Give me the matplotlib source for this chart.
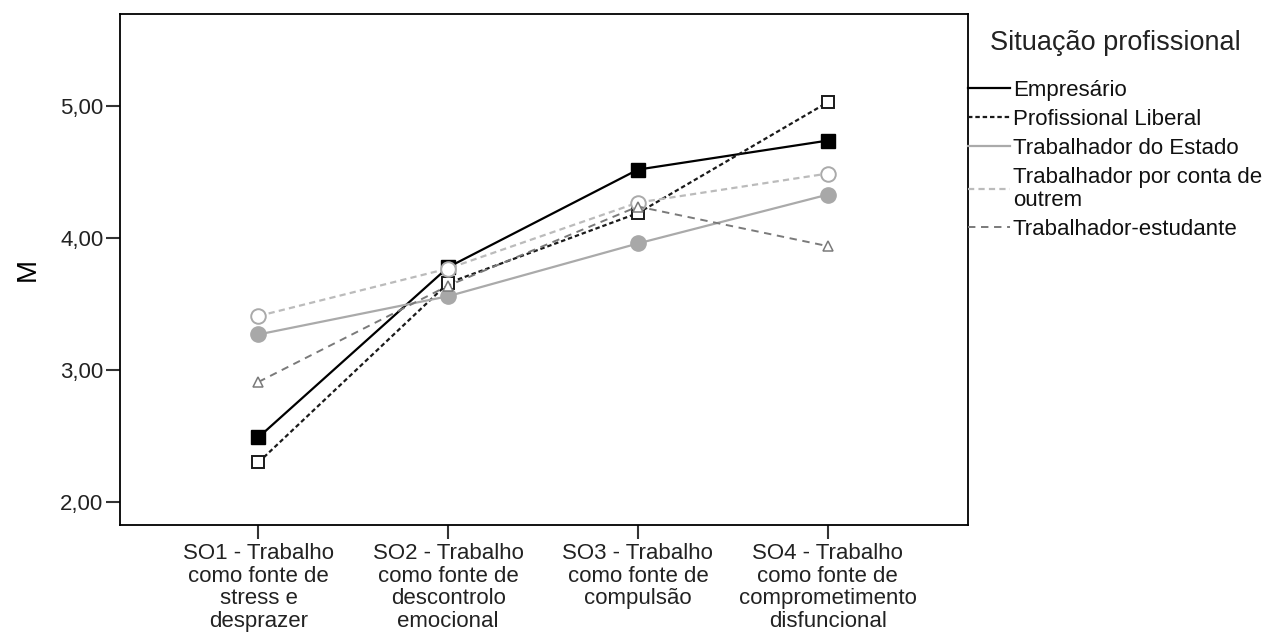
#!/usr/bin/env python
# coding: utf-8

import numpy as np
import matplotlib.pyplot as plt
from matplotlib.lines import Line2D

plt.rcParams['font.family'] = ['Liberation Sans', 'DejaVu Sans']

# Data
categories = ['SO1 - Trabalho\ncomo fonte de\nstress e\ndesprazer',
              'SO2 - Trabalho\ncomo fonte de\ndescontrolo\nemocional',
              'SO3 - Trabalho\ncomo fonte de\ncompulsão',
              'SO4 - Trabalho\ncomo fonte de\ncomprometimento\ndisfuncional']
groups = ['Empresário', 'Profissional Liberal', 'Trabalhador do Estado',
          'Trabalhador por conta de\noutrem', 'Trabalhador-estudante']
empresario = [2.49, 3.78, 4.52, 4.74]
liberal = [2.30, 3.66, 4.19, 5.03]
estado = [3.27, 3.56, 3.96, 4.33]
outrem = [3.41, 3.77, 4.27, 4.49]
estudante = [2.91, 3.64, 4.24, 3.94]
yticks = [2.0, 3.0, 4.0, 5.0]
ytick_labels = ['2,00', '3,00', '4,00', '5,00']

series = [empresario, liberal, estado, outrem, estudante]
line_styles = [
    dict(color='black', ls='-', lw=1.6),
    dict(color='#1a1a1a', ls=(0, (2.0, 1.3)), lw=1.6),
    dict(color='#aaaaaa', ls='-', lw=1.6),
    dict(color='#bbbbbb', ls=(0, (2.8, 1.9)), lw=1.6),
    dict(color='#7a7a7a', ls=(0, (3.8, 2.9)), lw=1.4),
]
marker_styles = [
    dict(marker='s', ms=9.5, mfc='black', mec='black'),
    dict(marker='s', ms=8.5, mfc='white', mec='#1a1a1a', mew=1.4),
    dict(marker='o', ms=11, mfc='#a8a8a8', mec='#a8a8a8'),
    dict(marker='o', ms=10.5, mfc='white', mec='#aaaaaa', mew=1.4),
    dict(marker='^', ms=6.5, mfc='white', mec='#7a7a7a', mew=1.1),
]

fig = plt.figure(figsize=(12.71, 6.35), dpi=100)
ax = fig.add_axes([120 / 1271, 1 - 525 / 635, 848 / 1271, 511 / 635])

x = np.arange(len(categories))
handles = []
for vals, name, ls_, ms_ in zip(series, groups, line_styles, marker_styles):
    ax.plot(x, vals, **ls_, **ms_)
    handles.append(Line2D([], [], **ls_))

ax.set_xlim(-0.73, 3.74)
ax.set_ylim(1.825, 5.70)
ax.set_xticks(x)
ax.set_xticklabels(categories, fontsize=16, linespacing=1.1)
ax.set_yticks(yticks)
ax.set_yticklabels(ytick_labels, fontsize=16)
ax.set_ylabel('M', fontsize=20, labelpad=14)
ax.tick_params(length=10, width=1.5, color='#333333', labelcolor='#222222', pad=2)
ax.tick_params(axis='x', pad=3)
for s in ax.spines.values():
    s.set_linewidth(1.3)

leg = ax.legend(handles, groups, loc='upper left', bbox_to_anchor=(1.0, 0.968),
                frameon=False, fontsize=16, title='Situação profissional',
                title_fontsize=19.5, handlelength=1.9, handletextpad=0.12,
                borderaxespad=0, borderpad=0, labelspacing=0.36)
for t in leg.get_texts():
    t.set_linespacing(1.14)
    t.set_color('#111111')
leg.get_title().set_color('#222222')
# wider gap between the legend title and the first entry
leg._legend_box.sep = 17

fig.savefig('out.png', dpi=100)
